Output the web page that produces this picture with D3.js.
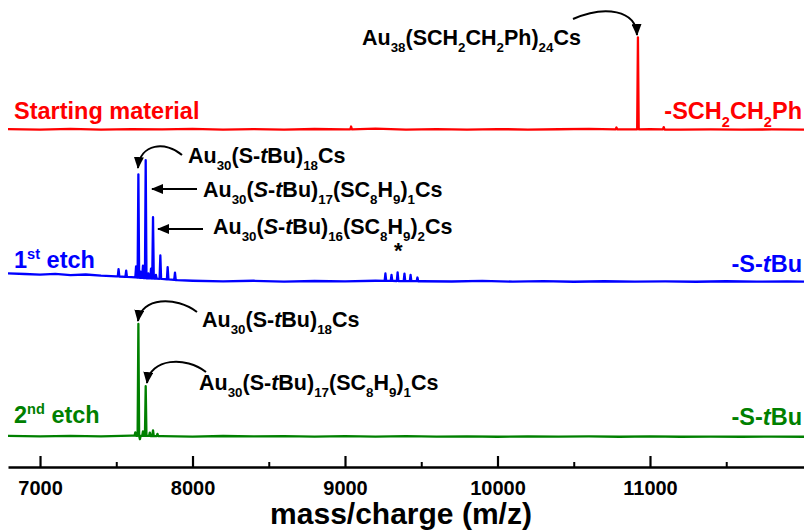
<!DOCTYPE html>
<html>
<head>
<meta charset="utf-8">
<script src="https://cdn.jsdelivr.net/npm/d3@7"></script>
<style>
  body { margin: 0; background: #fff; }
  svg { display: block; font-family: Arial, "Liberation Sans", sans-serif; font-weight: bold; white-space: pre; }
</style>
</head>
<body>
<svg id="chart" width="804" height="531"></svg>
<script>
// x axis ticks (m/z)
const majorTicks = [7000, 8000, 9000, 10000, 11000];
const minorTicks = [7500, 8500, 9500, 10500, 11500];

// baselines: [m/z, intensity %]
const redBaseline = [[6790,1],[7000,0.5],[7200,1.2],[7400,0.4],[7600,1],[7800,0.6],[8000,1.3],[8200,0.5],[8400,1],[8600,0.3],[8800,1.1],[9000,0.6],[9200,1.4],[9400,0.5],[9600,0.9],[9800,0.4],[10000,1],[10200,0.5],[10400,0.8],[10600,1.2],[10800,0.6],[11000,0.8],[11200,0.3],[11400,0.7],[11600,0.4],[11800,0.6],[12010,0.5]];
const blueBaseline = [[6790,7],[6900,6.5],[7000,6],[7100,6.6],[7200,5.6],[7300,6.1],[7400,5.2],[7500,4.6],[7600,4],[7700,3],[7800,2.5],[7900,1.5],[8000,1],[8200,0.5],[8400,1],[8600,0.3],[8800,0.8],[9000,0.5],[9200,1],[9500,0.6],[9700,0.4],[9900,0.9],[10100,0.3],[10300,0.7],[10500,0.2],[10700,0.6],[10900,0.3],[11100,0.5],[11300,0.2],[11500,0.6],[11700,0.3],[11900,0.5],[12010,0.3]];
const greenBaseline = [[6790,1],[7000,0.6],[7200,1],[7400,0.5],[7600,1.2],[7800,0.7],[8000,0.4],[8200,0.9],[8400,0.5],[8600,0.8],[8800,0.3],[9000,0.7],[9200,0.4],[9400,0.8],[9600,0.3],[9800,0.6],[10000,0.2],[10200,0.6],[10400,0.3],[10600,0.5],[10800,0.2],[11000,0.5],[11200,0.2],[11400,0.4],[11600,0.2],[11800,0.4],[12010,0.2]];

// peaks: [m/z, height above baseline %]
const redPeaks = [[9040,3],[10780,2],[10921,100],[11090,2.5]];
const bluePeaks = [[7515,6],[7565,5],[7630,9],[7645,84],[7660,5],[7675,10],[7693,96],[7710,4],[7728,8],[7741,50],[7760,3],[7789,19],[7837,10],[7885,6],[9265,6],[9305,5],[9345,7],[9390,6],[9430,5],[9475,3]];
const greenPeaks = [[7625,3],[7645,99],[7655,-3],[7675,4],[7693,44],[7720,3],[7741,5],[7770,2]];

// texts
const leftLabels = [
    [["Starting material"]],
    [["1"], ["st", "sup"], [" etch"]],
    [["2"], ["nd", "sup"], [" etch"]]
];
const rightLabels = [
    [["-SCH"], ["2", "sub"], ["CH"], ["2", "sub"], ["Ph"]],
    [["-S-"], ["t", "it"], ["Bu"]],
    [["-S-"], ["t", "it"], ["Bu"]]
];
const au38Label = [["Au"], ["38", "sub"], ["(SCH"], ["2", "sub"], ["CH"], ["2", "sub"], ["Ph)"], ["24", "sub"], ["Cs"]];
const au30Label18 = [["Au"], ["30", "sub"], ["(S-"], ["t", "it"], ["Bu)"], ["18", "sub"], ["Cs"]];
const au30Label17 = [["Au"], ["30", "sub"], ["("], ["S", "it"], ["-"], ["t", "it"], ["Bu)"], ["17", "sub"], ["(SC"], ["8", "sub"], ["H"], ["9", "sub"], [")"], ["1", "sub"], ["Cs"]];
const au30Label16 = [["Au"], ["30", "sub"], ["("], ["S", "it"], ["-"], ["t", "it"], ["Bu)"], ["16", "sub"], ["(SC"], ["8", "sub"], ["H"], ["9", "sub"], [")"], ["2", "sub"], ["Cs"]];
const au30Label17g = [["Au"], ["30", "sub"], ["(S-"], ["t", "it"], ["Bu)"], ["17", "sub"], ["(SC"], ["8", "sub"], ["H"], ["9", "sub"], [")"], ["1", "sub"], ["Cs"]];

const colors = ["#ff0000", "#0000ff", "#008000"];
const HW = 5; // half width of a peak in m/z

const svg = d3.select("#chart");

const x = d3.scaleLinear().domain([6790, 12010]).range([8, 804]);
const yRed = d3.scaleLinear().domain([0, 100]).range([130, 38]);
const yBlue = d3.scaleLinear().domain([0, 100]).range([282, 159]);
const yGreen = d3.scaleLinear().domain([0, 100]).range([437, 324]);

// merge baseline and peaks into one sorted trace
function buildTrace(base, peaks) {
    const baseAt = d3.scaleLinear().domain(base.map(d => d[0])).range(base.map(d => d[1]));
    const pts = base.filter(([m]) => !peaks.some(([p]) => Math.abs(m - p) <= HW)).map(d => [d[0], d[1]]);
    peaks.forEach(([m, h]) => {
        pts.push([m - HW, baseAt(m - HW)], [m, baseAt(m) + h], [m + HW, baseAt(m + HW)]);
    });
    return pts.sort((a, b) => a[0] - b[0]);
}

function drawTrace(base, peaks, y, color) {
    const line = d3.line().x(d => x(d[0])).y(d => y(d[1]));
    svg.append("path")
        .attr("d", line(buildTrace(base, peaks)))
        .attr("fill", "none")
        .attr("stroke", color)
        .attr("stroke-width", 2.3)
        .attr("stroke-linejoin", "round");
}

// text with sub/superscripts
function richText(px, py, parts, size, fill, anchor) {
    const t = svg.append("text")
        .attr("x", px).attr("y", py)
        .attr("font-size", size)
        .attr("fill", fill)
        .attr("text-anchor", anchor || "start");
    let shift = 0;
    parts.forEach(([s, kind]) => {
        let target = 0, fs = size;
        if (kind === "sub") { target = size * 0.33; fs = size * 0.62; }
        if (kind === "sup") { target = -size * 0.38; fs = size * 0.62; }
        const ts = t.append("tspan").attr("dy", target - shift).attr("font-size", fs).text(s);
        if (kind === "it") ts.attr("font-style", "italic");
        shift = target;
    });
    return t;
}

drawTrace(redBaseline, redPeaks, yRed, colors[0]);
drawTrace(blueBaseline, bluePeaks, yBlue, colors[1]);
drawTrace(greenBaseline, greenPeaks, yGreen, colors[2]);

// axis
const axisY = 467;
const axis = svg.append("g")
    .attr("transform", `translate(0,${axisY})`)
    .call(d3.axisBottom(x).tickValues(majorTicks).tickFormat(d3.format("d")).tickSize(-11).tickSizeOuter(0).tickPadding(14));
axis.select(".domain").attr("stroke-width", 2.5);
axis.selectAll(".tick line").attr("stroke-width", 2.2);
axis.selectAll(".tick text").attr("font-size", 20).attr("font-family", null).attr("fill", "#000");
const minor = svg.append("g")
    .attr("transform", `translate(0,${axisY})`)
    .call(d3.axisBottom(x).tickValues(minorTicks).tickFormat("").tickSize(-5).tickSizeOuter(0));
minor.select(".domain").remove();
minor.selectAll(".tick line").attr("stroke-width", 2);

svg.append("text")
    .attr("x", 401).attr("y", 524)
    .attr("text-anchor", "middle")
    .attr("font-size", 30)
    .text("mass/charge (m/z)");

// trace labels
const leftY = [119, 268, 423];
const rightY = [119, 272, 425];
leftLabels.forEach((parts, i) => richText(14, leftY[i], parts, 23.5, colors[i]));
rightLabels.forEach((parts, i) => richText(802, rightY[i], parts, 23.5, colors[i], "end"));

// annotations
richText(362, 45, au38Label, 21.5, "#000");
richText(188, 163, au30Label18, 21.5, "#000");
richText(203, 197, au30Label17, 21.5, "#000");
richText(213, 234, au30Label16, 21.5, "#000");
richText(202, 327, au30Label18, 21.5, "#000");
richText(199, 390, au30Label17g, 21.5, "#000");

svg.append("text")
    .attr("x", x(9350)).attr("y", 258)
    .attr("text-anchor", "middle")
    .attr("font-size", 22)
    .text("*");

// arrows
svg.append("defs").append("marker")
    .attr("id", "head")
    .attr("markerUnits", "userSpaceOnUse")
    .attr("markerWidth", 12).attr("markerHeight", 10)
    .attr("refX", 11).attr("refY", 5)
    .attr("orient", "auto")
    .append("path").attr("d", "M0,0L12,5L0,10Z").attr("fill", "#000");

const arrows = [
    "M573,19 C605,5 636,10 637,35",
    "M182,155 C166,141 140,143 138,168",
    "M197,189 L152,189",
    "M203,229 L158,229",
    "M197,312 C176,296 141,297 138,321",
    "M206,372 C186,356 150,358 147,383"
];
svg.selectAll(".arrow")
    .data(arrows)
    .join("path")
    .attr("class", "arrow")
    .attr("d", d => d)
    .attr("fill", "none")
    .attr("stroke", "#000")
    .attr("stroke-width", 2)
    .attr("marker-end", "url(#head)");
</script>
</body>
</html>
